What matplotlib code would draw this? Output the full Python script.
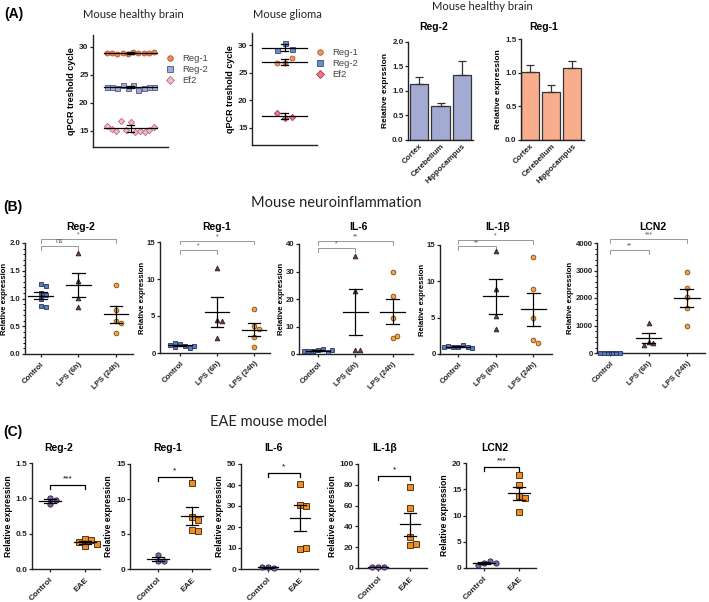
import numpy as np
import matplotlib.pyplot as plt
from matplotlib.ticker import AutoMinorLocator
from matplotlib.lines import Line2D

plt.rcParams['font.family'] = ['Liberation Sans', 'DejaVu Sans']

W, H = 709, 602

# ---------------- (A) raw Ct values ----------------
a_healthy_reg1 = [28.9, 28.9, 28.7, 28.9, 28.7, 29.1, 28.9, 28.9, 28.9, 29.0]
a_healthy_reg2 = [22.9, 22.8, 22.7, 23.2, 22.7, 23.1, 22.3, 22.7, 22.8, 22.8]
a_healthy_ef2 = [15.8, 15.3, 15.0, 16.7, 15.1, 16.5, 14.7, 15.0, 14.8, 15.2, 15.7]
a_glioma_reg1 = [26.7, 26.7, 27.6]
a_glioma_reg2 = [29.1, 30.3, 29.3]
a_glioma_ef2 = [17.7, 16.8, 17.0]

# (A) bars, healthy brain regions
regions = ['Cortex', 'Cerebellum', 'Hippocampus']
bar_reg2 = [1.15, 0.70, 1.33]
bar_reg2_sem = [0.13, 0.06, 0.29]
bar_reg1 = [1.01, 0.72, 1.07]
bar_reg1_sem = [0.10, 0.10, 0.10]

# ---------------- (B) neuroinflammation ----------------
b_groups = ['Control', 'LPS (6h)', 'LPS (24h)']
b_titles = ['Reg-2', 'Reg-1', 'IL-6', 'IL-1β', 'LCN2']
b_control = [
    [1.26, 1.22, 1.10, 1.07, 1.00, 0.86, 0.84],
    [1.2, 1.0, 0.8, 1.4, 0.7, 1.1, 1.0],
    [1.5, 2.0, 1.0, 0.8, 1.2, 1.3, 1.1],
    [1.0, 1.2, 0.9, 1.0, 1.1, 0.8, 1.0],
    [5, 8, 3, 6, 4, 7, 5],
]
b_lps6 = [
    [1.82, 1.31, 1.01, 0.84],
    [11.5, 4.5, 4.3, 2.0],
    [35.5, 23.0, 1.3, 1.5],
    [14.2, 8.9, 5.2, 3.4],
    [1090, 400, 350, 300],
]
b_lps24 = [
    [1.25, 0.80, 0.60, 0.55, 0.38],
    [5.9, 3.6, 3.3, 2.2, 0.8],
    [30.0, 21.2, 13.2, 6.0, 6.5],
    [13.4, 8.9, 5.0, 1.9, 1.5],
    [2930, 2360, 2050, 1650, 980],
]
b_ymax = [2.0, 15, 40, 15, 4000]
b_ystep = [0.5, 5, 10, 5, 1000]
b_minor = [5, 1, 1, 1, 5]
# significance: (label 6h, height 6h, label 24h, height 24h)
b_sig = [
    ('ns', 1.95, '*', 2.07),
    ('*', 13.9, '*', 15.2),
    ('*', 38.5, '**', 41.2),
    ('**', 14.8, '*', 15.7),
    ('**', 3740, '***', 4140),
]

# ---------------- (C) EAE ----------------
c_groups = ['Control', 'EAE']
c_titles = ['Reg-2', 'Reg-1', 'IL-6', 'IL-1β', 'LCN2']
c_control = [
    [1.00, 0.97, 0.92],
    [2.0, 1.1, 1.1],
    [1.0, 0.5, 0.8],
    [1.0, 0.5, 0.8],
    [0.95, 1.4, 0.5, 0.95],
]
c_eae = [
    [0.43, 0.41, 0.38, 0.36, 0.32],
    [12.3, 7.4, 7.0, 5.6, 5.5],
    [40.5, 30.5, 30.0, 9.7, 9.9],
    [78, 58, 29.5, 22, 23],
    [17.7, 15.9, 13.7, 13.3, 10.6],
]
c_ymax = [1.5, 15, 50, 100, 20]
c_ystep = [0.5, 5, 10, 20, 5]
c_sig = [('***', 1.19), ('*', 13.2), ('*', 45.8), ('*', 88.5), ('***', 19.3)]

# ---------------- layout (pixel boxes: left, top, right, bottom) ----------------
b_boxes = [(25, 243, 133, 354), (160, 242, 270, 353), (299, 244, 413, 354),
           (440, 245, 552, 354), (597, 243, 705, 353)]
b_xlims = [(-0.42, 2.45), (-0.54, 2.43), (-0.51, 2.55), (-0.48, 2.5), (-0.34, 2.47)]
c_boxes = [(32, 463, 100, 569), (130, 464, 210, 569), (241, 464, 318, 569),
           (358, 464, 427, 568), (466, 463, 536, 568)]
c_xlims = [(-0.51, 1.43), (-0.82, 1.53), (-0.84, 1.56), (-0.63, 1.53), (-0.51, 1.49)]

fig = plt.figure(figsize=(W / 100, H / 100), dpi=100)


def add_ax(box):
    x0, y0, x1, y1 = box
    return fig.add_axes([x0 / W, 1 - y1 / H, (x1 - x0) / W, (y1 - y0) / H])


def ftext(x, y, s, **kw):
    return fig.text(x / W, 1 - y / H, s, **kw)


def prism(ax, fs=6):
    for s in ['top', 'right']:
        ax.spines[s].set_visible(False)
    for s in ['left', 'bottom']:
        ax.spines[s].set_linewidth(1.0)
        ax.spines[s].set_color('#222222')
    ax.tick_params(direction='out', length=2.2, width=0.9, labelsize=fs,
                   pad=1, colors='#222222')
    ax.tick_params(which='minor', direction='out', length=1.4, width=0.7)
    for lab in ax.get_yticklabels() + ax.get_xticklabels():
        lab.set_fontweight('bold')


def swarm(ax, x0, ys, min_px=4.6, step_px=2.6):
    tr = ax.transData
    py = tr.transform(np.column_stack([np.full(len(ys), x0), ys]))[:, 1]
    unit = tr.transform((x0 + 1, 0))[0] - tr.transform((x0, 0))[0]
    placed = []
    xs = np.zeros(len(ys))
    for i in range(len(ys)):
        k = 0
        while True:
            cands = [0.0] if k == 0 else [k * step_px, -k * step_px]
            ok = None
            for c in cands:
                if all((c - qx) ** 2 + (py[i] - qy) ** 2 >= min_px ** 2 for qx, qy in placed):
                    ok = c
                    break
            if ok is not None:
                break
            k += 1
        placed.append((ok, py[i]))
        xs[i] = x0 + ok / unit
    return xs


def mean_sem(ax, x, ys, half=0.33, cap=0.17, lw=0.9, sd=False):
    ys = np.asarray(ys, float)
    m = ys.mean()
    e = ys.std(ddof=1) if sd else ys.std(ddof=1) / np.sqrt(len(ys))
    ax.plot([x - half, x + half], [m, m], color='black', lw=lw, zorder=5)
    ax.plot([x, x], [m - e, m + e], color='black', lw=lw, zorder=5)
    for v in (m - e, m + e):
        ax.plot([x - cap, x + cap], [v, v], color='black', lw=lw, zorder=5)


# ---------------- Panel A ----------------
ftext(4, 14, '(A)', fontsize=10, fontweight='bold', va='center')
ftext(133, 14, 'Mouse healthy brain', fontsize=8, family=['Lato', 'DejaVu Sans'],
      ha='center', va='center', color='#222222')
ftext(287, 14, 'Mouse glioma', fontsize=8, family=['Lato', 'DejaVu Sans'],
      ha='center', va='center', color='#222222')
ftext(482, 7, 'Mouse healthy brain', fontsize=8, family=['Lato', 'DejaVu Sans'],
      ha='center', va='center', color='#222222')

a_sets = [
    ((93, 35, 168, 147), (12.1, 32.1), 0.63,
     [(a_healthy_reg1, 'o', '#f0875a', '#b8532a', 'Reg-1'),
      (a_healthy_reg2, 's', '#a3acd8', '#4a5686', 'Reg-2'),
      (a_healthy_ef2, 'D', '#f8b9c6', '#b86a80', 'Ef2')],
     (0.228, 0.918)),
    ((252, 33, 317, 145), (11.9, 32.2), 0.23,
     [(a_glioma_reg1, 'o', '#f2925f', '#b65a30', 'Reg-1'),
      (a_glioma_reg2, 's', '#6f8cc8', '#34487a', 'Reg-2'),
      (a_glioma_ef2, 'D', '#ea7690', '#a83a58', 'Ef2')],
     (0.44, 0.928)),
]
for box, ylim, spread, series, leg_anchor in a_sets:
    ax = add_ax(box)
    ax.set_xlim(-1, 1)
    ax.set_ylim(*ylim)
    handles = []
    for vals, mk, fc, ec, lab in series:
        n = len(vals)
        xs = np.linspace(-spread, spread, n)
        ms = 3.6 if mk != 'D' else 3.2
        ax.plot(xs, vals, linestyle='none', marker=mk, ms=ms, mfc=fc, mec=ec,
                mew=0.6, zorder=3)
        mean_sem(ax, 0, vals, half=0.7, cap=0.1, lw=0.9, sd=True)
        handles.append(Line2D([], [], linestyle='none', marker=mk, ms=4, mfc=fc,
                              mec=ec, mew=0.6, label=lab))
    ax.set_xticks([])
    ax.set_yticks([15, 20, 25, 30])
    ax.set_ylabel('qPCR treshold cycle', fontsize=6.5, fontweight='bold', labelpad=2)
    prism(ax, fs=6)
    fig.legend(handles=handles, loc='upper left', bbox_to_anchor=leg_anchor,
               frameon=False, fontsize=6.8, handlelength=0.8, handletextpad=0.9,
               labelspacing=0.22, borderpad=0, labelcolor='#444444')

bar_sets = [
    ((408, 42, 473, 140), bar_reg2, bar_reg2_sem, '#a3abd3', 'Reg-2', (434, 27),
     2.0, 'Relative exprssion', (-0.5, 2.5)),
    ((521, 39, 584, 140), bar_reg1, bar_reg1_sem, '#f8ad8d', 'Reg-1', (544, 27),
     1.5, 'Relative expression', (-0.45, 2.55)),
]
for box, vals, sem, col, title, tpos, ymax, ylab, xlim in bar_sets:
    ax = add_ax(box)
    x = np.arange(len(regions))
    ax.bar(x, vals, width=0.86, color=col, edgecolor='#333333', linewidth=0.9, zorder=2)
    ax.errorbar(x, vals, yerr=[np.zeros(len(vals)), sem], fmt='none',
                ecolor='#333333', elinewidth=0.9, capsize=3, capthick=0.9, zorder=3)
    ax.set_xlim(*xlim)
    ax.set_ylim(0, ymax)
    ax.set_yticks(np.arange(0, ymax + 0.01, 0.5))
    ax.set_yticklabels(['%.1f' % v for v in np.arange(0, ymax + 0.01, 0.5)])
    ax.set_xticks(x)
    ax.set_xticklabels(regions, rotation=45, ha='right', rotation_mode='anchor')
    ax.set_ylabel(ylab, fontsize=6, fontweight='bold', labelpad=2)
    prism(ax, fs=5.8)
    ax.tick_params(axis='x', length=0, pad=2)
    ftext(tpos[0], tpos[1], title, fontsize=7.5, fontweight='bold',
          ha='center', va='center')

# ---------------- Panel B ----------------
ftext(3, 207, '(B)', fontsize=10, fontweight='bold', va='center')
ftext(336, 203, 'Mouse neuroinflammation', fontsize=10.5,
      family=['Lato', 'DejaVu Sans'], ha='center', va='center', color='#222222')

b_styles = [('s', '#5c7cc2', '#24345e'), ('^', '#6e3c5e', '#2e1a28'),
            ('o', '#f5a640', '#7a4a14')]
for i in range(5):
    ax = add_ax(b_boxes[i])
    ax.set_xlim(*b_xlims[i])
    ax.set_ylim(0, b_ymax[i])
    for g, vals in enumerate([b_control[i], b_lps6[i], b_lps24[i]]):
        mk, fc, ec = b_styles[g]
        if i == 4 and g == 0:
            xs = swarm(ax, g, vals, min_px=3.2, step_px=1.6)
        else:
            xs = swarm(ax, g, vals, min_px=4.4, step_px=2.4)
        ax.plot(xs, vals, linestyle='none', marker=mk, ms=3.4, mfc=fc, mec=ec,
                mew=0.6, zorder=4, clip_on=False)
        mean_sem(ax, g, vals, half=0.33, cap=0.17)
    ticks = np.arange(0, b_ymax[i] + 1e-9, b_ystep[i])
    ax.set_yticks(ticks)
    if b_ystep[i] < 1:
        ax.set_yticklabels(['%.1f' % t for t in ticks])
    if b_minor[i] > 1:
        ax.yaxis.set_minor_locator(AutoMinorLocator(b_minor[i]))
    ax.set_xticks(range(3))
    ax.set_xticklabels(b_groups, rotation=45, ha='right', rotation_mode='anchor')
    ax.set_ylabel('Relative expression', fontsize=5.6, fontweight='bold', labelpad=1)
    prism(ax, fs=5.6)
    ax.tick_params(axis='x', pad=3)
    # brackets
    lab1, h1, lab2, h2 = b_sig[i]
    drop = b_ymax[i] * 0.035
    for xr, lab, h in [(1, lab1, h1), (2, lab2, h2)]:
        ax.plot([0, 0, xr, xr], [h - drop, h, h, h - drop], color='#888888',
                lw=0.6, clip_on=False)
        ax.text(xr / 2, h + b_ymax[i] * 0.005, lab, fontsize=5, color='#555555',
                ha='center', va='bottom')
    bx0, _, bx1, _ = b_boxes[i]
    ftext((bx0 + bx1) / 2 + 2, 227, b_titles[i], fontsize=7.5, fontweight='bold',
          ha='center', va='center')

# ---------------- Panel C ----------------
ftext(3, 432, '(C)', fontsize=10, fontweight='bold', va='center')
ftext(268, 422, 'EAE mouse model', fontsize=10.5, family=['Lato', 'DejaVu Sans'],
      ha='center', va='center', color='#222222')

c_styles = [('o', '#8266b2', '#2e2050'), ('s', '#f08c22', '#3a2008')]
c_title_x = [59, 168, 273, 385, 495]
for i in range(5):
    ax = add_ax(c_boxes[i])
    ax.set_xlim(*c_xlims[i])
    ax.set_ylim(0, c_ymax[i])
    for g, vals in enumerate([c_control[i], c_eae[i]]):
        mk, fc, ec = c_styles[g]
        xs = swarm(ax, g, vals, min_px=5.0, step_px=3.0)
        ax.plot(xs, vals, linestyle='none', marker=mk, ms=3.8, mfc=fc, mec=ec,
                mew=0.6, zorder=4, clip_on=False)
        mean_sem(ax, g, vals, half=0.32, cap=0.18)
    ticks = np.arange(0, c_ymax[i] + 1e-9, c_ystep[i])
    ax.set_yticks(ticks)
    if c_ystep[i] < 1:
        ax.set_yticklabels(['%.1f' % t for t in ticks])
    ax.set_xticks(range(2))
    ax.set_xticklabels(c_groups, rotation=45, ha='right', rotation_mode='anchor')
    ax.set_ylabel('Relative expression', fontsize=6.2, fontweight='bold', labelpad=2)
    prism(ax, fs=6)
    ax.tick_params(axis='x', pad=3)
    lab, h = c_sig[i]
    drop = c_ymax[i] * 0.04
    ax.plot([0, 0, 1, 1], [h - drop, h, h, h - drop], color='black', lw=0.9,
            clip_on=False)
    ax.text(0.5, h + c_ymax[i] * 0.02, lab, fontsize=6, ha='center', va='bottom')
    ftext(c_title_x[i], 448, c_titles[i], fontsize=7.5, fontweight='bold',
          ha='center', va='center')

fig.savefig('out.png', dpi=100)
